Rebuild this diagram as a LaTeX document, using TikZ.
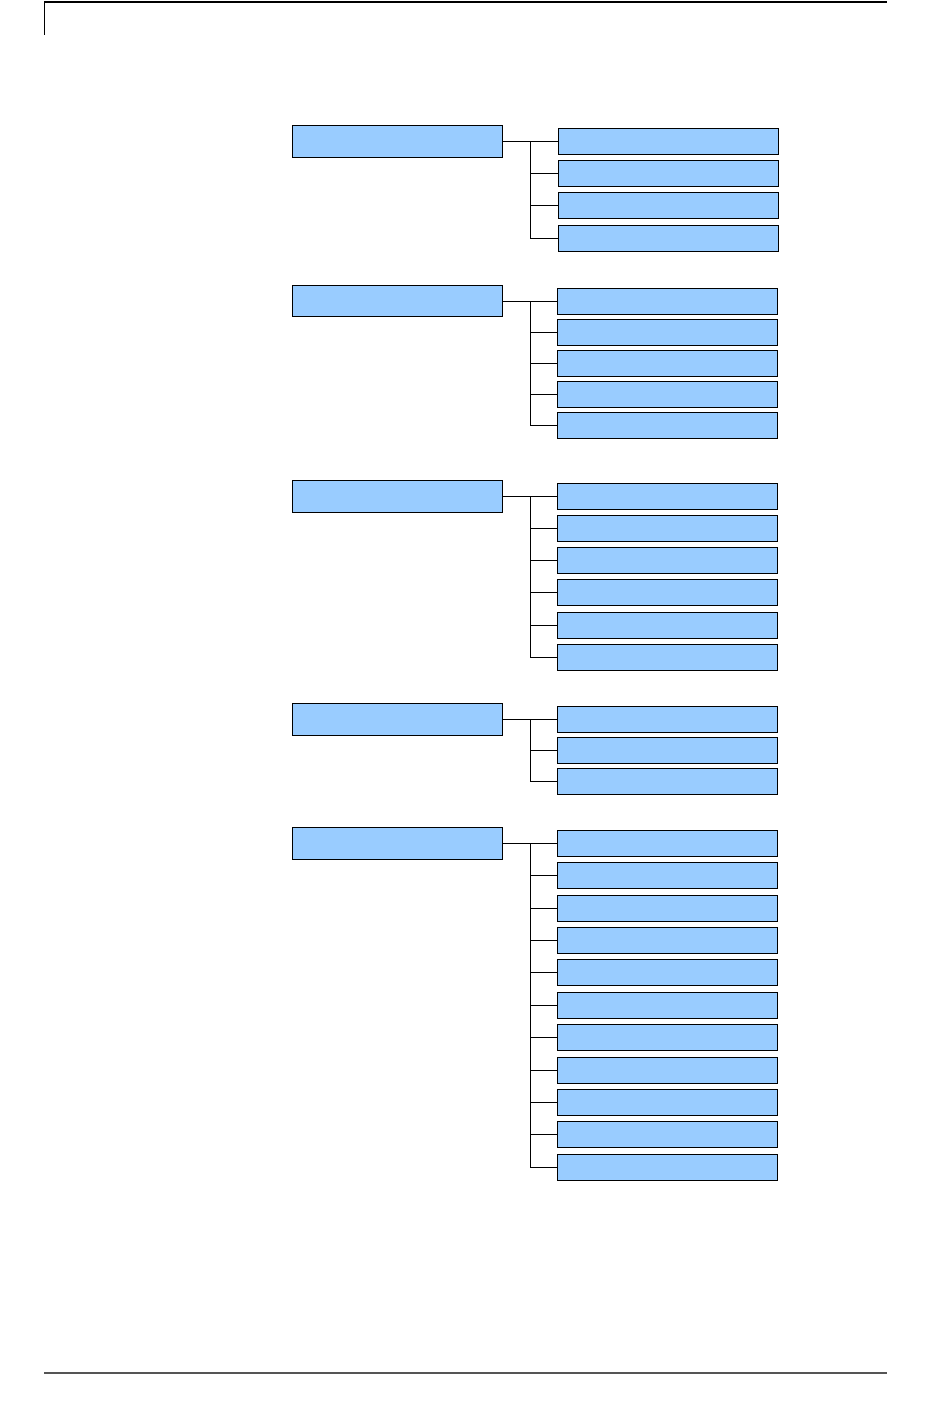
\documentclass[tikz,border=0pt]{standalone}
\usepackage{xcolor}
\usepackage{tikz}
\usetikzlibrary{positioning}
\definecolor{boxblue} {RGB}{153,204,255}
\definecolor{rulegray}{RGB}{85,85,85}
\tikzset{
  headbox/.style={draw, fill=boxblue, line width=1pt, inner sep=0pt,
                  outer sep=0pt, minimum width=210pt, minimum height=31.5pt},
  itembox/.style={draw, fill=boxblue, line width=1pt, inner sep=0pt,
                  outer sep=0pt, minimum width=220pt, minimum height=26pt},
  link/.style   ={line width=1pt},
}

\begin{document}
\begin{tikzpicture}[x=1pt, y=-1pt]
  \useasboundingbox (0,0) rectangle (950,1408);
  % page rules
  \draw[line width=1.5pt] (44,2)--(887,2);
  \draw[line width=0.8pt] (44,2)--(44,35);
  \draw[rulegray, line width=1.5pt] (44,1373)--(887,1373);

  % group 1
  \node[headbox] (p1) at (397,141.3) {};
  \node[itembox] (c11) at (668,141.3) {};
  \node[itembox, below=6.3pt of c11] (c12) {};
  \node[itembox, below=6.3pt of c12] (c13) {};
  \node[itembox, below=6.3pt of c13] (c14) {};

  % group 2
  \node[headbox] (p2) at (397,301) {};
  \node[itembox] (c21) at (667,301) {};
  \node[itembox, below=5.2pt of c21] (c22) {};
  \node[itembox, below=5.2pt of c22] (c23) {};
  \node[itembox, below=5.2pt of c23] (c24) {};
  \node[itembox, below=5.2pt of c24] (c25) {};

  % group 3
  \node[headbox] (p3) at (397,496.3) {};
  \node[itembox] (c31) at (667,496.3) {};
  \node[itembox, below=6.2pt of c31] (c32) {};
  \node[itembox, below=6.2pt of c32] (c33) {};
  \node[itembox, below=6.2pt of c33] (c34) {};
  \node[itembox, below=6.2pt of c34] (c35) {};
  \node[itembox, below=6.2pt of c35] (c36) {};

  % group 4
  \node[headbox] (p4) at (397,719.3) {};
  \node[itembox] (c41) at (667,719.3) {};
  \node[itembox, below=5pt of c41] (c42) {};
  \node[itembox, below=5pt of c42] (c43) {};

  % group 5
  \node[headbox] (p5) at (397,843.3) {};
  \node[itembox] (c51) at (667,843.3) {};
  \node[itembox, below=6.4pt of c51] (c52) {};
  \node[itembox, below=6.4pt of c52] (c53) {};
  \node[itembox, below=6.4pt of c53] (c54) {};
  \node[itembox, below=6.4pt of c54] (c55) {};
  \node[itembox, below=6.4pt of c55] (c56) {};
  \node[itembox, below=6.4pt of c56] (c57) {};
  \node[itembox, below=6.4pt of c57] (c58) {};
  \node[itembox, below=6.4pt of c58] (c59) {};
  \node[itembox, below=6.4pt of c59] (c510) {};
  \node[itembox, below=6.4pt of c510] (c511) {};

  % connectors
  \coordinate[right=28pt of p1.east] (t1);\coordinate[right=28pt of p2.east] (t2);
  \coordinate[right=28pt of p3.east] (t3);\coordinate[right=28pt of p4.east] (t4);
  \coordinate[right=28pt of p5.east] (t5);
  \draw[link](p1)--(c11);\foreach \k in {2,...,4}  \draw[link](t1)|-(c1\k.west);
  \draw[link](p2)--(c21);\foreach \k in {2,...,5}  \draw[link](t2)|-(c2\k.west);
  \draw[link](p3)--(c31);\foreach \k in {2,...,6}  \draw[link](t3)|-(c3\k.west);
  \draw[link](p4)--(c41);\foreach \k in {2,...,3}  \draw[link](t4)|-(c4\k.west);
  \draw[link](p5)--(c51);\foreach \k in {2,...,11} \draw[link](t5)|-(c5\k.west);
\end{tikzpicture}
\end{document}
